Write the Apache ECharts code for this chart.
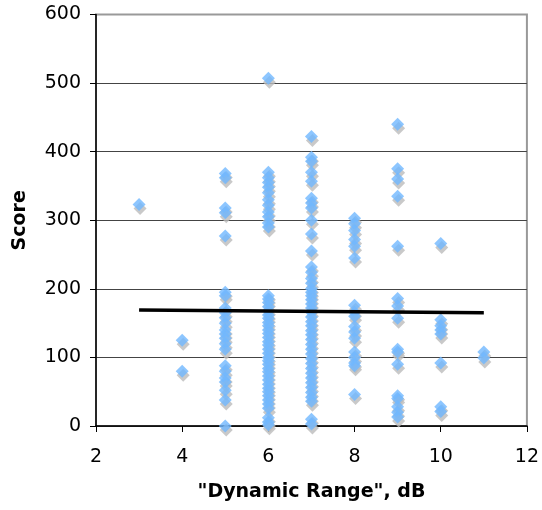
<!DOCTYPE html>
<html>
<head>
<meta charset="utf-8">
<script src="https://cdn.jsdelivr.net/npm/echarts@6/dist/echarts.min.js"></script>
<style>
	html, body { margin: 0; padding: 0; background: #fff; }
	#chart { width: 542px; height: 510px; }
</style>
</head>
<body>
<div id="chart"></div>
<script>
//	分数数据  按 "Dynamic Range" 分列
var rangeCols = [3, 4, 5, 6, 7, 8, 9, 10, 11];
var score3 = [323];
var score4 = [125, 80];
var score5 = [368, 362, 318, 311, 277, 195, 190, 172, 165, 158, 150, 140, 134, 128, 120, 112, 88, 80, 70, 64, 52, 38, 0];
var score6 = [507, 370, 362, 355, 348, 340, 330, 322, 312, 305, 296, 290, 190, 185, 180, 174, 168, 162, 157, 151, 146, 140, 135, 129, 123, 118, 112, 106, 100, 95, 90, 84, 79, 73, 67, 61, 55, 50, 44, 38, 32, 26, 12, 6, 2];
var score7 = [422, 392, 386, 370, 357, 332, 325, 318, 300, 280, 255, 232, 224, 215, 208, 200, 195, 190, 184, 178, 172, 166, 159, 152, 146, 139, 133, 126, 119, 112, 105, 98, 91, 84, 77, 70, 63, 56, 49, 42, 36, 10, 3];
var score8 = [303, 295, 285, 272, 262, 245, 176, 166, 160, 145, 137, 128, 108, 100, 92, 88, 46];
var score9 = [440, 375, 360, 335, 262, 186, 175, 157, 112, 108, 90, 44, 40, 28, 20, 13];
var score10 = [266, 155, 146, 140, 134, 92, 28, 21];
var score11 = [108, 99];
var scoreCols = [score3, score4, score5, score6, score7, score8, score9, score10, score11];

//	趋势线
var trendX = [3, 11];
var trendY = [169, 165];

var xTicks = [2, 4, 6, 8, 10, 12];
var yTicks = [0, 100, 200, 300, 400, 500, 600];

(function scoreChartFn() {
	var points = [];
	for (var i = 0; i < rangeCols.length; i++) {
		for (var j = 0; j < scoreCols[i].length; j++) {
			points.push([rangeCols[i], scoreCols[i][j]]);
		}
	}
	var trendData = [];
	for (var k = 0; k < trendX.length; k++) {
		trendData.push([trendX[k], trendY[k]]);
	}

	var fontFamily = 'DejaVu Sans, Verdana, sans-serif';

	var chartOption = {
		animation: false,
		grid: {
			left: 96,
			right: 13,
			top: 14.5,
			bottom: 84,
			show: true,
			borderColor: '#999',
			borderWidth: 2
		},
		xAxis: {
			type: 'value',
			min: xTicks[0],
			max: xTicks[xTicks.length - 1],
			interval: 2,
			name: '"Dynamic Range", dB',
			nameLocation: 'middle',
			nameGap: 57,
			nameTextStyle: {
				color: '#000',
				fontFamily: fontFamily,
				fontWeight: 'bold',
				fontSize: 19
			},
			axisLine: { lineStyle: { color: '#000', width: 1.5 } },
			axisTick: { show: true, inside: false, length: 6, lineStyle: { color: '#000' } },
			axisLabel: { color: '#000', fontFamily: fontFamily, fontSize: 19, margin: 22 },
			splitLine: { show: false }
		},
		yAxis: {
			type: 'value',
			min: yTicks[0],
			max: yTicks[yTicks.length - 1],
			interval: 100,
			name: 'Score',
			nameLocation: 'middle',
			nameGap: 66,
			nameTextStyle: {
				color: '#000',
				fontFamily: fontFamily,
				fontWeight: 'bold',
				fontSize: 19
			},
			axisLine: { show: true, lineStyle: { color: '#000', width: 1.5 } },
			axisTick: { show: true, inside: false, length: 6, lineStyle: { color: '#000' } },
			axisLabel: { color: '#000', fontFamily: fontFamily, fontSize: 19, margin: 15 },
			splitLine: { show: true, showMaxLine: false, lineStyle: { color: '#444', width: 1 } }
		},
		series: [{
			name: 'Score',
			type: 'scatter',
			symbol: 'diamond',
			symbolSize: 13,
			data: points,
			itemStyle: {
				color: '#70b8ff',
				shadowColor: '#bcbcbc',
				shadowBlur: 0,
				shadowOffsetX: 1,
				shadowOffsetY: 4
			},
			z: 2
		}, {
			name: 'Trend',
			type: 'line',
			symbol: 'none',
			data: trendData,
			lineStyle: { color: '#000', width: 3.5 },
			z: 3
		}]
	};

	var scoreChart = echarts.init(document.getElementById('chart'));
	scoreChart.setOption(chartOption);
})();
</script>
</body>
</html>
